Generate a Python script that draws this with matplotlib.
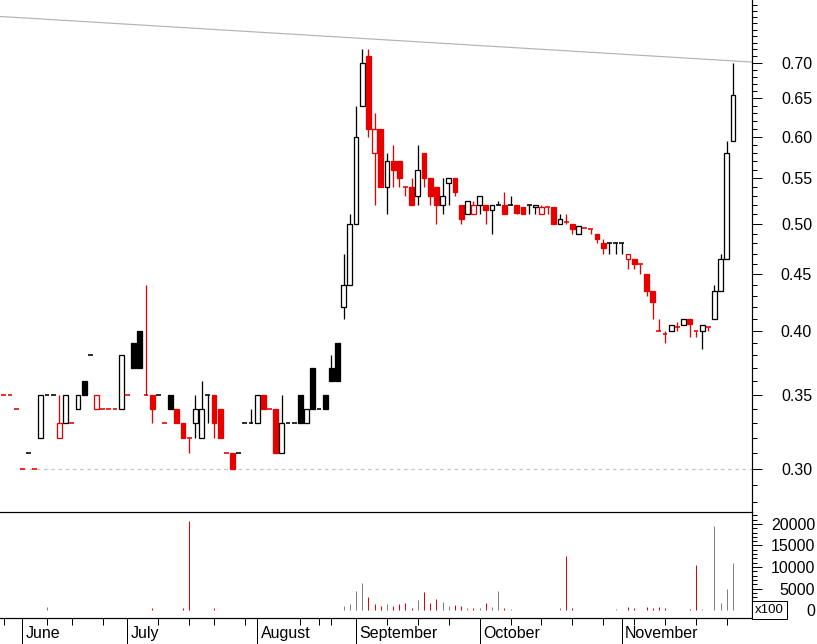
import numpy as np
import matplotlib
matplotlib.use('Agg')
import matplotlib.pyplot as plt
from matplotlib.patches import Rectangle
from matplotlib.ticker import FixedLocator, FormatStrFormatter, NullFormatter

plt.rcParams['font.family'] = ['Liberation Sans', 'DejaVu Sans']

# daily prices, one entry per trading day
opens = [0.35, 0.35, 0.34, 0.30, 0.31, 0.30, 0.32, 0.35, 0.35, 0.32,
         0.33, 0.33, 0.34, 0.36, 0.38, 0.34, 0.34, 0.34, 0.34, 0.34,
         0.35, 0.39, 0.40, 0.35, 0.35, 0.35, 0.33, 0.35, 0.34, 0.33,
         0.32, 0.33, 0.32, 0.35, 0.35, 0.34, 0.31, 0.31, 0.31, 0.33,
         0.33, 0.33, 0.35, 0.34, 0.34, 0.31, 0.33, 0.33, 0.35, 0.33,
         0.37, 0.34, 0.35, 0.37, 0.39, 0.42, 0.44, 0.50, 0.64, 0.71,
         0.58, 0.61, 0.54, 0.57, 0.57, 0.54, 0.54, 0.53, 0.58, 0.55,
         0.54, 0.52, 0.545, 0.55, 0.52, 0.51, 0.51, 0.52, 0.52, 0.515,
         0.52, 0.52, 0.52, 0.52, 0.518, 0.52, 0.518, 0.51, 0.518, 0.518,
         0.50, 0.502, 0.50, 0.49, 0.496, 0.495, 0.49, 0.48, 0.48, 0.48,
         0.48, 0.465, 0.465, 0.46, 0.45, 0.435, 0.40, 0.3975, 0.40, 0.4035,
         0.405, 0.41, 0.40, 0.40, 0.403, 0.41, 0.435, 0.465, 0.595]
highs = [0.35, 0.35, 0.34, 0.30, 0.31, 0.30, 0.35, 0.35, 0.35, 0.35,
         0.35, 0.33, 0.35, 0.36, 0.38, 0.35, 0.34, 0.34, 0.34, 0.38,
         0.35, 0.39, 0.40, 0.44, 0.35, 0.35, 0.33, 0.35, 0.34, 0.33,
         0.32, 0.35, 0.36, 0.35, 0.35, 0.34, 0.31, 0.31, 0.31, 0.33,
         0.34, 0.35, 0.35, 0.34, 0.34, 0.35, 0.33, 0.33, 0.35, 0.34,
         0.37, 0.34, 0.35, 0.38, 0.39, 0.47, 0.51, 0.64, 0.72, 0.72,
         0.63, 0.61, 0.58, 0.59, 0.57, 0.54, 0.55, 0.59, 0.58, 0.55,
         0.54, 0.55, 0.55, 0.55, 0.52, 0.525, 0.525, 0.53, 0.52, 0.52,
         0.525, 0.535, 0.53, 0.52, 0.518, 0.52, 0.52, 0.52, 0.518, 0.518,
         0.51, 0.51, 0.50, 0.498, 0.496, 0.495, 0.49, 0.485, 0.48, 0.48,
         0.48, 0.47, 0.465, 0.46, 0.45, 0.435, 0.41, 0.40, 0.405, 0.407,
         0.41, 0.41, 0.40, 0.405, 0.403, 0.44, 0.47, 0.595, 0.70]
lows = [0.35, 0.35, 0.34, 0.30, 0.31, 0.30, 0.32, 0.35, 0.35, 0.32,
        0.33, 0.33, 0.34, 0.35, 0.38, 0.34, 0.34, 0.34, 0.34, 0.34,
        0.35, 0.37, 0.37, 0.35, 0.33, 0.35, 0.33, 0.34, 0.33, 0.32,
        0.31, 0.32, 0.32, 0.33, 0.32, 0.32, 0.31, 0.30, 0.31, 0.33,
        0.33, 0.33, 0.34, 0.34, 0.31, 0.31, 0.33, 0.33, 0.33, 0.33,
        0.34, 0.34, 0.34, 0.36, 0.36, 0.41, 0.44, 0.50, 0.64, 0.60,
        0.52, 0.54, 0.51, 0.54, 0.54, 0.53, 0.52, 0.52, 0.54, 0.52,
        0.50, 0.51, 0.52, 0.53, 0.50, 0.51, 0.51, 0.51, 0.50, 0.49,
        0.52, 0.51, 0.52, 0.51, 0.51, 0.51, 0.51, 0.51, 0.51, 0.50,
        0.50, 0.50, 0.49, 0.49, 0.496, 0.49, 0.48, 0.47, 0.47, 0.47,
        0.47, 0.455, 0.455, 0.45, 0.43, 0.41, 0.40, 0.39, 0.40, 0.40,
        0.405, 0.395, 0.395, 0.385, 0.40, 0.41, 0.435, 0.465, 0.595]
closes = [0.35, 0.35, 0.34, 0.30, 0.31, 0.30, 0.35, 0.35, 0.35, 0.33,
          0.35, 0.33, 0.35, 0.35, 0.38, 0.35, 0.34, 0.34, 0.34, 0.38,
          0.35, 0.37, 0.37, 0.35, 0.34, 0.35, 0.33, 0.34, 0.33, 0.32,
          0.32, 0.34, 0.34, 0.35, 0.33, 0.32, 0.31, 0.30, 0.31, 0.33,
          0.33, 0.35, 0.34, 0.34, 0.31, 0.33, 0.33, 0.33, 0.33, 0.34,
          0.34, 0.34, 0.34, 0.36, 0.36, 0.44, 0.50, 0.60, 0.70, 0.61,
          0.61, 0.54, 0.57, 0.56, 0.55, 0.54, 0.52, 0.56, 0.55, 0.53,
          0.52, 0.53, 0.55, 0.535, 0.505, 0.525, 0.52, 0.53, 0.515, 0.52,
          0.52, 0.51, 0.52, 0.512, 0.51, 0.52, 0.52, 0.518, 0.518, 0.50,
          0.505, 0.502, 0.495, 0.498, 0.496, 0.495, 0.485, 0.475, 0.48, 0.48,
          0.48, 0.47, 0.46, 0.46, 0.435, 0.425, 0.40, 0.3975, 0.405, 0.4035,
          0.41, 0.406, 0.40, 0.405, 0.403, 0.435, 0.465, 0.58, 0.655]
# volume in hundreds of shares
volumes = [0, 0, 0, 0, 0, 0, 0, 770, 0, 0,
           0, 0, 0, 0, 0, 0, 0, 0, 0, 0,
           0, 0, 0, 0, 540, 0, 0, 0, 0, 540,
           20770, 0, 0, 0, 540, 0, 0, 0, 0, 0,
           0, 0, 0, 0, 0, 0, 0, 0, 0, 0,
           0, 0, 0, 0, 0, 1000, 1320, 4420, 6360, 3020,
           1400, 930, 1320, 930, 1400, 1630, 380, 2400, 4100, 1600,
           2600, 1900, 1000, 1200, 900, 550, 550, 550, 1700, 700,
           4420, 550, 300, 0, 0, 0, 0, 0, 0, 0,
           550, 12600, 550, 0, 0, 0, 0, 0, 0, 300,
           0, 700, 550, 0, 700, 550, 800, 550, 0, 0,
           0, 300, 10460, 300, 0, 19530, 1700, 4950, 11000]

month_names = ['June', 'July', 'August', 'September', 'October', 'November']
month_starts = [3, 20, 41, 57, 77, 100]
week_starts = [0, 7, 11, 16, 25, 30, 34, 39, 48, 51, 53, 62, 67, 72,
               82, 87, 92, 97, 102, 107, 112, 117]

trend_x = [-0.6, 121.1]
trend_y = [0.771, 0.701]
support_x = [3, 121.1]
support_y = [0.30, 0.30]

price_ticks = [0.30, 0.35, 0.40, 0.45, 0.50, 0.55, 0.60, 0.65, 0.70]
volume_ticks = [0, 5000, 10000, 15000, 20000]

RED = '#e60000'
GREY = '#808080'
PT = 0.72  # points per pixel at 100 dpi
W = 0.78   # body width in days

n = len(closes)
x = np.arange(n)

# colour follows close versus previous close, unchanged keeps colour
colors = []
up = False
for i in range(n):
    if i > 0:
        if closes[i] > closes[i - 1]:
            up = True
        elif closes[i] < closes[i - 1]:
            up = False
    colors.append('black' if up else RED)

fig = plt.figure(figsize=(8.17, 6.44), dpi=100)
ax = fig.add_axes([0, 132 / 644, 752 / 817, 512 / 644])
axv = fig.add_axes([0, 26 / 644, 752 / 817, 106 / 644], sharex=ax)

ax.set_yscale('log')

for i in range(n):
    o, h, l, c = opens[i], highs[i], lows[i], closes[i]
    col = colors[i]
    if h > l:
        ax.vlines(i, l, h, color=col, lw=1.3 * PT, zorder=2)
    if o == c:
        ax.hlines(c, i - W / 2, i + W / 2, color=col, lw=1.6 * PT, zorder=3)
    else:
        face = 'white' if c > o else col
        ax.add_patch(Rectangle((i - W / 2, min(o, c)), W, abs(c - o),
                               facecolor=face, edgecolor=col,
                               lw=1.3 * PT, zorder=3))

ax.plot(trend_x, trend_y, color='#b4b4b4', lw=1.2 * PT, zorder=1)
ax.plot(support_x, support_y, color='#c4c4c4', lw=1.2 * PT,
        ls=(0, (3, 3)), zorder=1)

ax.set_xlim(-0.615, 121.07)
ax.set_ylim(0.274, 0.798)

for spine in ['left', 'top', 'bottom']:
    ax.spines[spine].set_visible(False)
axv.spines['left'].set_visible(False)
for spine in axv.spines.values():
    spine.set_linewidth(1.2 * PT)
ax.spines['right'].set_linewidth(1.2 * PT)

ax.yaxis.tick_right()
ax.yaxis.set_major_locator(FixedLocator(price_ticks))
ax.yaxis.set_minor_locator(FixedLocator(np.round(np.arange(0.28, 0.795, 0.01), 2)))
ax.yaxis.set_major_formatter(FormatStrFormatter('%.2f'))
ax.yaxis.set_minor_formatter(NullFormatter())
ax.tick_params(axis='y', which='major', length=10 * PT, width=1 * PT,
               pad=50 * PT, labelsize=11.5)
ax.tick_params(axis='y', which='minor', length=5 * PT, width=1 * PT)
for lab in ax.get_yticklabels():
    lab.set_horizontalalignment('right')
ax.tick_params(axis='x', which='both', bottom=False, labelbottom=False)

# volume panel
axv.vlines(x, 0, volumes, colors=[GREY if c == 'black' else RED for c in colors],
           lw=1.0 * PT)
axv.set_ylim(-1860, 22790)
axv.yaxis.tick_right()
axv.yaxis.set_major_locator(FixedLocator(volume_ticks))
axv.yaxis.set_minor_locator(FixedLocator(np.arange(0, 22001, 1000)))
axv.yaxis.set_minor_formatter(NullFormatter())
axv.tick_params(axis='y', which='major', length=10 * PT, width=1 * PT,
                pad=53 * PT, labelsize=11.5)
axv.tick_params(axis='y', which='minor', length=5 * PT, width=1 * PT)
for lab in axv.get_yticklabels():
    lab.set_horizontalalignment('right')

axv.xaxis.set_major_locator(FixedLocator(month_starts))
axv.xaxis.set_minor_locator(FixedLocator([w for w in week_starts if w not in month_starts]))
axv.tick_params(axis='x', which='major', length=26 * PT, width=1 * PT,
                labelbottom=False)
axv.tick_params(axis='x', which='minor', length=7 * PT, width=1 * PT)

for m, name in zip(month_starts, month_names):
    axv.text(m + 0.55, -0.15, name, transform=axv.get_xaxis_transform(),
             ha='left', va='center', fontsize=11.5)

axv.text(1.004, 0.02, 'x100', transform=axv.transAxes, ha='left', va='bottom',
         fontsize=9.5, bbox=dict(boxstyle='square,pad=0.2', fc='white',
                                 ec='black', lw=1 * PT))

fig.savefig('out.png', dpi=100)
